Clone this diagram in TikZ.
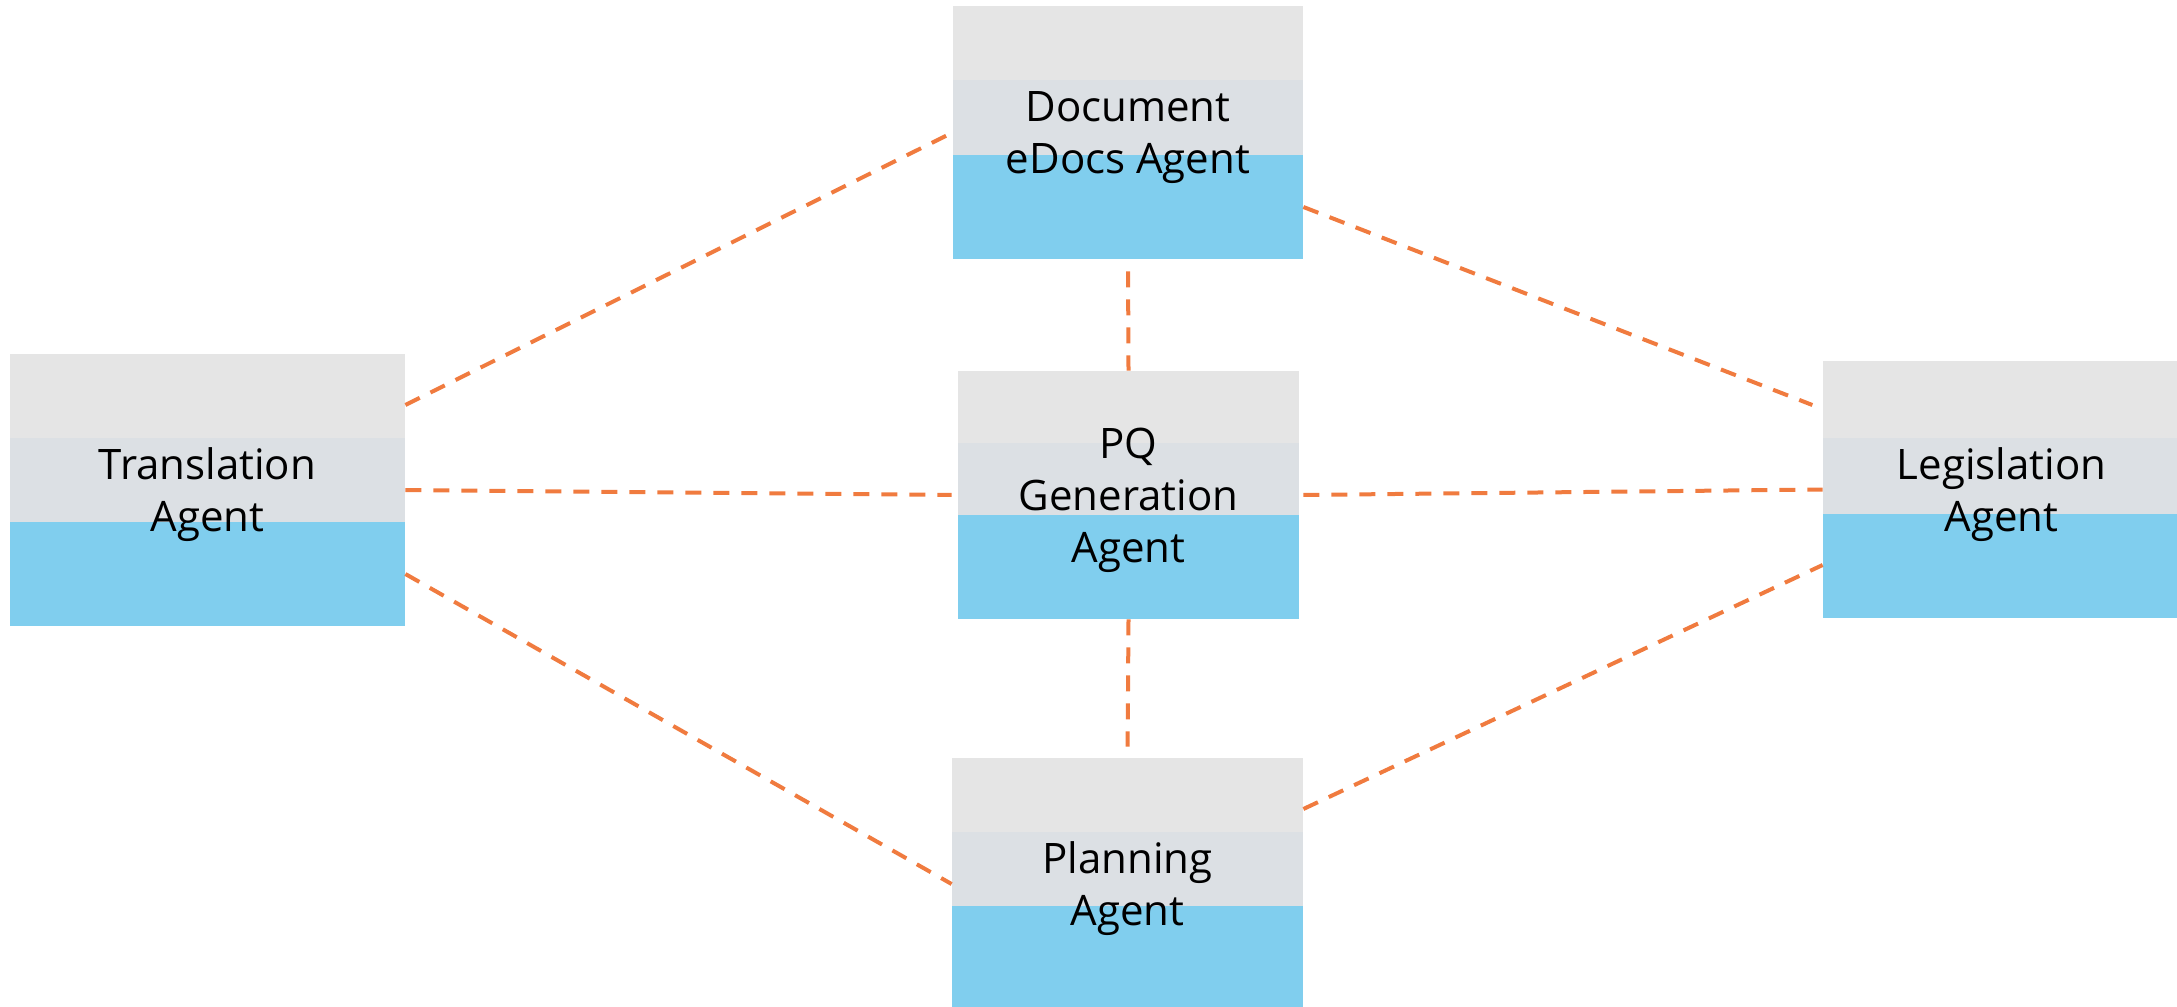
\documentclass[tikz,border=0pt]{standalone}
\usepackage{fontspec}
\setmainfont{Open Sans}
\usetikzlibrary{calc}
\definecolor{bandtop}{HTML}{E5E5E5}
\definecolor{bandmid}{HTML}{DCE0E4}
\definecolor{bandlow}{HTML}{80CEEE}
\definecolor{linkorange}{HTML}{F07B3F}
\tikzset{
	agent/.style={inner sep=0pt, align=center, fill=bandtop, text depth=-0.5pt,
		font=\fontsize{21}{26}\selectfont,
		path picture={
			\coordinate (lowtop) at ($(path picture bounding box.south west)+(0,52pt)$);
			\coordinate (midtop) at ($(path picture bounding box.north west)!0.5!(lowtop)$);
			\fill[bandtop] (path picture bounding box.north west) rectangle (path picture bounding box.east |- midtop);
			\fill[bandmid] (midtop) rectangle (path picture bounding box.east |- lowtop);
			\fill[bandlow] (lowtop) rectangle (path picture bounding box.south east);
		}},
	link/.style={linkorange, line width=2pt, dash pattern=on 8pt off 6pt}
}
\begin{document}
\begin{tikzpicture}[x=0.5pt,y=-0.5pt]
			\useasboundingbox (0,0) rectangle (2177,1006);
			% agents
			\node[agent, minimum width=175pt, minimum height=126.5pt] (doc) at (1128,132.5) {Document\\eDocs Agent};
			\node[agent, minimum width=197.5pt, minimum height=136pt] (trans) at (207.5,490) {Translation\\Agent};
			\node[agent, minimum width=170.5pt, minimum height=124pt] (pq) at (1128.5,495) {PQ\\Generation\\Agent};
			\node[agent, minimum width=178.5pt, minimum height=128.5pt] (legis) at (2001.5,489.5) {Legislation\\Agent};
			\node[agent, minimum width=175.5pt, minimum height=126pt] (plan) at (1127.5,884) {Planning\\Agent};
			% links
			\draw[link, shorten >=3.5pt] ([yshift=42.5pt]trans.east) -- (doc.west);
			\draw[link, shorten >=3pt] (trans.east) -- (pq.west);
			\draw[link] ([yshift=-42pt]trans.east) -- (plan.west);
			\draw[link, shorten <=6pt] (doc.south) -- (pq.north);
			\draw[link, shorten >=5.5pt] (pq.south) -- (plan.north);
			\draw[link, shorten >=5.5pt] ([yshift=-37.25pt]doc.east) -- ([yshift=40.25pt]legis.west);
			\draw[link, shorten <=2pt] (pq.east) -- (legis.west);
			\draw[link] ([yshift=37.5pt]plan.east) -- ([yshift=-37.75pt]legis.west);
		\end{tikzpicture}
\end{document}
